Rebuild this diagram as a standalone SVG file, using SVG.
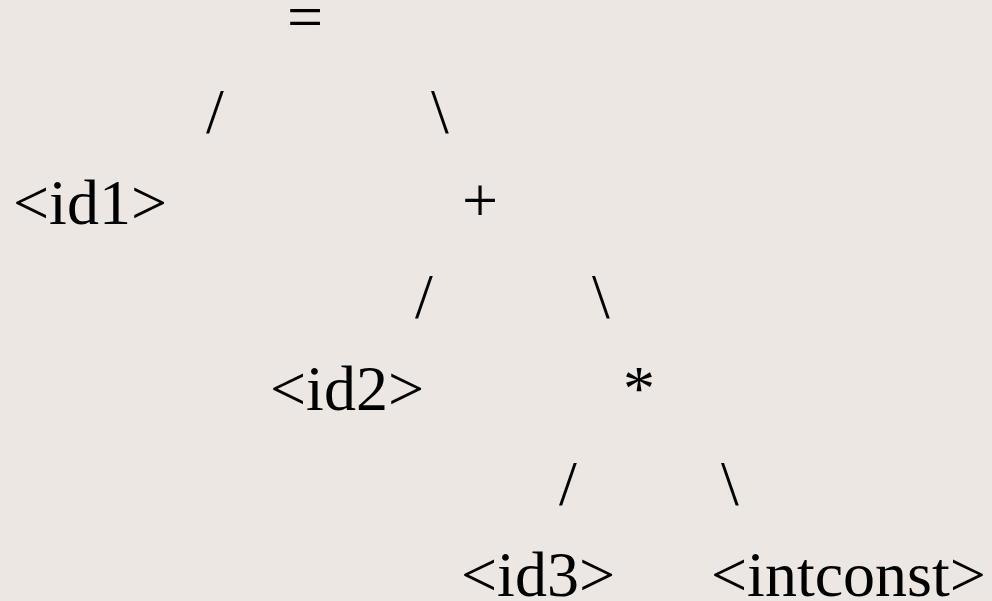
<svg xmlns="http://www.w3.org/2000/svg" width="992" height="601" viewBox="0 0 992 601">
<style>
text { font-family: "Liberation Serif", "Times New Roman", serif; font-size: 64px; fill: #000000; }
</style>
<rect width="992" height="601" fill="#ECE7E3"/>
<g id="node-assign"><text x="287" y="38">=</text></g>
<g id="node-id1"><text x="13" y="224">&lt;id1&gt;</text></g>
<g id="node-plus"><text x="462" y="222">+</text></g>
<g id="node-id2"><text x="270" y="410">&lt;id2&gt;</text></g>
<g id="node-mul"><text x="623" y="410">*</text></g>
<g id="node-id3"><text x="461" y="596">&lt;id3&gt;</text></g>
<g id="node-intconst"><text x="711" y="596">&lt;intconst&gt;</text></g>
<g id="connectors">
<text x="206" y="133">/</text>
<text x="431" y="133">\</text>
<text x="415" y="318">/</text>
<text x="592" y="318">\</text>
<text x="559" y="505">/</text>
<text x="721" y="505">\</text>
</g>
</svg>
